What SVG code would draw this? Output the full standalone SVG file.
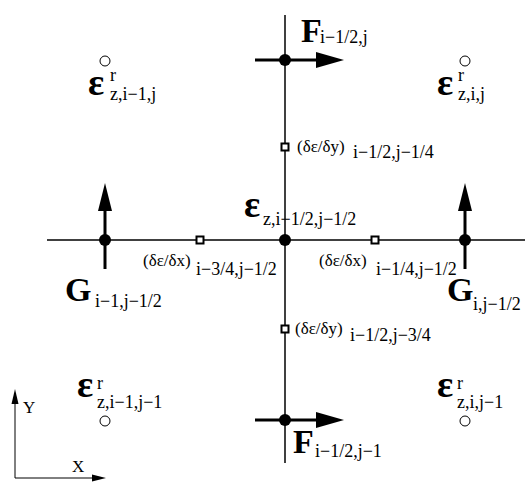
<svg xmlns="http://www.w3.org/2000/svg" width="529" height="492" viewBox="0 0 529 492">
<style>
.ax{stroke:#000;stroke-width:1.5;fill:none}
.th{stroke:#000;stroke-width:3;fill:none}
.dot{fill:#000}
.sq{fill:#fff;stroke:#000;stroke-width:2}
.ci{fill:#fff;stroke:#000;stroke-width:1}
.big{font-family:"Liberation Serif",serif;font-size:34px;font-weight:bold}
.eps{font-family:"Liberation Serif",serif;font-size:38px;font-weight:bold}
.sub{font-family:"Liberation Serif",serif;font-size:18px}
.lbl{font-family:"Liberation Serif",serif;font-size:17px}
.ah{fill:#000}
</style>
<g id="connectors">
<line class="ax" x1="285" y1="15" x2="285" y2="463"/>
<line class="ax" x1="47" y1="240" x2="525" y2="240"/>
<line class="th" x1="255" y1="60" x2="316" y2="60"/>
<polygon class="ah" points="316,52 344,60 316,68"/>
<line class="th" x1="255" y1="420" x2="316" y2="420"/>
<polygon class="ah" points="316,412 344,420 316,428"/>
<line class="th" x1="105" y1="210" x2="105" y2="269"/>
<polygon class="ah" points="98,211 105,183 112,211"/>
<line class="th" x1="465" y1="210" x2="465" y2="269"/>
<polygon class="ah" points="458,211 465,183 472,211"/>
<line stroke="#000" stroke-width="1" x1="15" y1="478" x2="15" y2="400"/>
<polygon class="ah" points="11.5,404 15,389 18.5,404"/>
<line stroke="#000" stroke-width="1" x1="15" y1="478" x2="95" y2="478"/>
<polygon class="ah" points="92,474.5 106,478 92,481.5"/>
</g>
<g id="F-top"><circle class="dot" cx="285" cy="60" r="6"/><text class="big" x="301" y="42">F</text><text class="sub" x="320" y="43">i−1/2,j</text></g>
<g id="F-bottom"><circle class="dot" cx="285" cy="420" r="6"/><text class="big" x="293" y="453">F</text><text class="sub" x="315" y="457">i−1/2,j−1</text></g>
<g id="G-left"><circle class="dot" cx="105" cy="240" r="6"/><text class="big" x="65" y="301">G</text><text class="sub" x="95" y="307">i−1,j−1/2</text></g>
<g id="G-right"><circle class="dot" cx="465" cy="240" r="6"/><text class="big" x="447" y="301">G</text><text class="sub" x="473" y="310">i,j−1/2</text></g>
<g id="center"><circle class="dot" cx="285" cy="240" r="6"/><text class="eps" x="244" y="217">ε</text><text class="sub" x="263" y="225">z,i−1/2,j−1/2</text></g>
<g id="dy-top"><rect class="sq" x="281.5" y="143.5" width="7" height="7"/><text class="lbl" x="297" y="152">(δε/δy)</text><text class="sub" x="353" y="158">i−1/2,j−1/4</text></g>
<g id="dy-bottom"><rect class="sq" x="281.5" y="325.5" width="7" height="7"/><text class="lbl" x="295" y="334">(δε/δy)</text><text class="sub" x="350" y="341">i−1/2,j−3/4</text></g>
<g id="dx-left"><rect class="sq" x="196.5" y="236.5" width="7" height="7"/><text class="lbl" x="143" y="266">(δε/δx)</text><text class="sub" x="196" y="275">i−3/4,j−1/2</text></g>
<g id="dx-right"><rect class="sq" x="371.5" y="236.5" width="7" height="7"/><text class="lbl" x="319" y="266">(δε/δx)</text><text class="sub" x="376" y="275">i−1/4,j−1/2</text></g>
<g id="eps-tl"><circle class="ci" cx="105" cy="61" r="5"/><text class="eps" x="88" y="95">ε</text><text class="sub" x="110" y="81">r</text><text class="sub" x="110" y="100">z,i−1,j</text></g>
<g id="eps-tr"><circle class="ci" cx="465" cy="61" r="5"/><text class="eps" x="437" y="95">ε</text><text class="sub" x="458" y="81">r</text><text class="sub" x="458" y="100">z,i,j</text></g>
<g id="eps-bl"><circle class="ci" cx="105" cy="421" r="5"/><text class="eps" x="77" y="397">ε</text><text class="sub" x="97" y="389">r</text><text class="sub" x="97" y="408">z,i−1,j−1</text></g>
<g id="eps-br"><circle class="ci" cx="465" cy="421" r="5"/><text class="eps" x="437" y="397">ε</text><text class="sub" x="457" y="389">r</text><text class="sub" x="457" y="408">z,i,j−1</text></g>
<g id="axes-labels"><text class="lbl" x="23" y="413">Y</text><text class="lbl" x="72" y="472">X</text></g>
</svg>
